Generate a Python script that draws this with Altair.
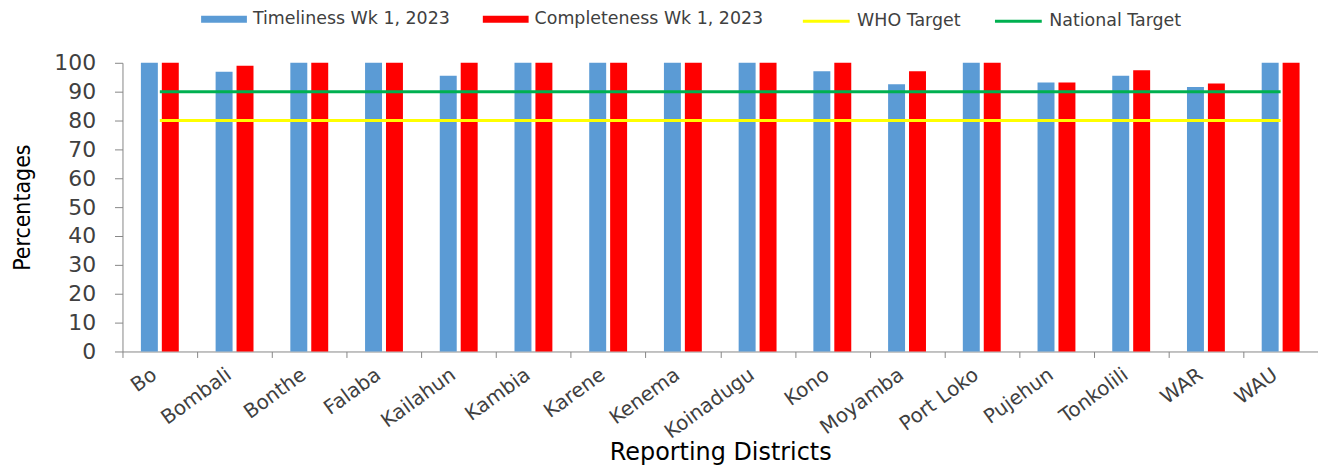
import altair as alt
import pandas as pd

districts = ["Bo", "Bombali", "Bonthe", "Falaba", "Kailahun", "Kambia", "Karene",
             "Kenema", "Koinadugu", "Kono", "Moyamba", "Port Loko", "Pujehun",
             "Tonkolili", "WAR", "WAU"]
timeliness = [100, 96.9, 100, 100, 95.5, 100, 100, 100, 100, 97.1, 92.6, 100, 93.2, 95.5, 91.6, 100]
completeness = [100, 99.0, 100, 100, 100, 100, 100, 100, 100, 100, 97.1, 100, 93.2, 97.4, 92.8, 100]
series_names = ["Timeliness Wk 1, 2023", "Completeness Wk 1, 2023"]
target_names = ["WHO Target", "National Target"]
target_values = [80, 90]
yticks = [0, 10, 20, 30, 40, 50, 60, 70, 80, 90, 100]

bar_rows = []
for d, t, c in zip(districts, timeliness, completeness):
    bar_rows.append({"district": d, "series": series_names[0], "value": t})
    bar_rows.append({"district": d, "series": series_names[1], "value": c})
bars_df = pd.DataFrame(bar_rows)

line_rows = []
for name, v in zip(target_names, target_values):
    for d in districts:
        line_rows.append({"district": d, "target": name, "value": v})
lines_df = pd.DataFrame(line_rows)

x_axis = alt.Axis(
    title="Reporting Districts", labelAngle=-36, labelAlign="right", labelBaseline="bottom",
    labelFont="DejaVu Sans", labelFontSize=20,
    labelColor="#404040", labelPadding=23, tickBand="extent", tickSize=6,
    tickColor="#868686", domainColor="#868686", titleFont="DejaVu Sans", titleFontSize=24,
    titleFontWeight="normal", titleColor="#000000", titleY=109, titleBaseline="alphabetic",
)
y_axis = alt.Axis(
    title="Percentages", values=yticks, labelFont="DejaVu Sans", labelFontSize=22,
    labelColor="#404040", labelPadding=19, tickSize=8, tickColor="#868686",
    domainColor="#868686", grid=False, titleFont="DejaVu Sans Condensed", titleFontSize=23,
    titleFontWeight="normal", titleColor="#000000", titleX=-100, titleBaseline="middle",
)

x_enc = alt.X("district:N", sort=districts, scale=alt.Scale(paddingInner=0, paddingOuter=0), axis=x_axis)
y_enc = alt.Y("value:Q", scale=alt.Scale(domain=[0, 100], nice=False), axis=y_axis)

bars = alt.Chart(bars_df).mark_bar().encode(
    x=x_enc,
    xOffset=alt.XOffset("series:N", sort=series_names,
                        scale=alt.Scale(paddingInner=0.19, paddingOuter=0.88)),
    y=y_enc,
    color=alt.Color("series:N", sort=series_names,
                    scale=alt.Scale(domain=series_names, range=["#5B9BD5", "#FF0000"]),
                    legend=alt.Legend(title=None, orient="none", direction="horizontal",
                                      legendX=79, legendY=-67, symbolType="M-1,-0.15H1V0.15H-1Z",
                                      symbolSize=2116, symbolStrokeWidth=0, labelFont="DejaVu Sans",
                                      labelFontSize=17.5, labelColor="#404040", labelOffset=6,
                                      labelLimit=0, columnPadding=32, padding=0)),
)

lines = alt.Chart(lines_df).mark_line(strokeWidth=3).encode(
    x=x_enc,
    y=y_enc,
    stroke=alt.Stroke("target:N", sort=target_names,
                      scale=alt.Scale(domain=target_names, range=["#FFFF00", "#00B050"]),
                      legend=alt.Legend(title=None, orient="none", direction="horizontal",
                                        legendX=682, legendY=-67, symbolType="stroke",
                                        symbolSize=2209, symbolStrokeWidth=3, labelFont="DejaVu Sans",
                                        labelFontSize=17.5, labelColor="#404040", labelOffset=6,
                                        labelLimit=0, columnPadding=28, padding=0)),
)

chart = alt.layer(bars, lines).properties(
    width=1201, height=290,
    autosize=alt.AutoSizeParams(type="none"),
    padding={"left": 115, "top": 54, "right": 0, "bottom": 113},
).configure_view(stroke=None)

chart.save("out.html", embed_options={"renderer": "svg", "actions": False})
